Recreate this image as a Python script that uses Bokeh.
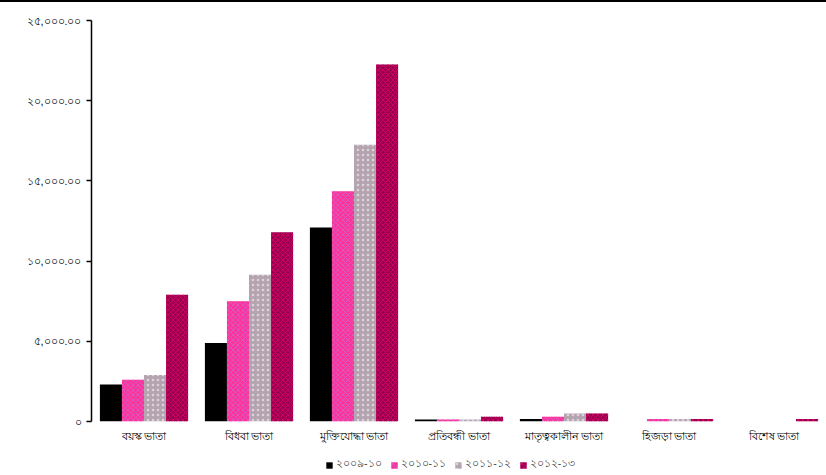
from bokeh.plotting import figure
from bokeh.models import ColumnDataSource, FactorRange, Legend, LegendItem, FixedTicker
from bokeh.layouts import column
from bokeh.transform import dodge
from bokeh.embed import file_html
from bokeh.resources import INLINE

categories = ["বয়স্ক ভাতা", "বিধবা ভাতা", "মুক্তিযোদ্ধা ভাতা", "প্রতিবন্ধী ভাতা",
              "মাতৃত্বকালীন ভাতা", "হিজড়া ভাতা", "বিশেষ ভাতা"]
years = ["২০০৯-১০", "২০১০-১১", "২০১১-১২", "২০১২-১৩"]
s1 = [2300, 4900, 12100, 120, 150, 0, 0]
s2 = [2600, 7500, 14350, 120, 300, 150, 0]
s3 = [2900, 9150, 17250, 120, 500, 150, 0]
s4 = [7900, 11800, 22250, 300, 500, 150, 150]
y_ticks = [0, 5000, 10000, 15000, 20000, 25000]
y_tick_labels = ["০", "৫,০০০.০০", "১০,০০০.০০", "১৫,০০০.০০", "২০,০০০.০০", "২৫,০০০.০০"]

source = ColumnDataSource(dict(cat=categories, s1=s1, s2=s2, s3=s3, s4=s4))

p = figure(x_range=FactorRange(factors=categories, range_padding=0), y_range=(0, 25000),
           width=826, height=452, output_backend="svg", toolbar_location=None,
           min_border_left=91, min_border_top=18, min_border_right=0, min_border_bottom=33)
p.outline_line_color = None
p.grid.grid_line_color = None
p.styles = {"border-top": "2px solid #000000"}

styles = [
    dict(fill_color="#000000", hatch_pattern=None, hatch_color=None),
    dict(fill_color="#FF3399", hatch_pattern="diagonal_cross", hatch_color="#D060C8"),
    dict(fill_color="#B4A4B0", hatch_pattern="dot", hatch_color="#E8E0E8"),
    dict(fill_color="#99004D", hatch_pattern="diagonal_cross", hatch_color="#E0006A"),
]
offsets = [-0.315, -0.105, 0.105, 0.315]
keys = ["s1", "s2", "s3", "s4"]


def bar_style(st):
    kw = dict(fill_color=st["fill_color"], line_color=None)
    if st["hatch_pattern"]:
        kw.update(hatch_pattern=st["hatch_pattern"], hatch_color=st["hatch_color"],
                  hatch_scale=5, hatch_weight=1, hatch_alpha=0.8)
    return kw


for k, off, st in zip(keys, offsets, styles):
    p.vbar(x=dodge("cat", off, range=p.x_range), top=k, width=0.21, source=source, **bar_style(st))

p.yaxis.ticker = FixedTicker(ticks=y_ticks)
p.yaxis.major_label_overrides = {t: l for t, l in zip(y_ticks, y_tick_labels)}
p.yaxis.minor_tick_line_color = None
p.yaxis.major_tick_in = 0
p.yaxis.major_tick_out = 5
p.yaxis.axis_line_color = "#000000"
p.yaxis.axis_line_width = 1.5
p.yaxis.major_tick_line_width = 1.5
p.yaxis.major_label_text_font_size = "8pt"
p.yaxis.major_label_text_color = "#000000"

p.xaxis.axis_line_color = None
p.xaxis.major_tick_line_color = None
p.xaxis.minor_tick_line_color = None
p.xaxis.major_tick_in = 0
p.xaxis.major_tick_out = 0
p.xaxis.minor_tick_in = 0
p.xaxis.minor_tick_out = 0
p.xaxis.major_label_text_font_size = "8pt"
p.xaxis.major_label_text_color = "#000000"
p.xaxis.major_label_standoff = 8

# legend strip below the chart (its renderers hold one off-range point so swatches draw)
lg = figure(width=826, height=22, output_backend="svg", toolbar_location=None,
            x_axis_type=None, y_axis_type=None, x_range=(0, 1), y_range=(0, 1),
            min_border=0, min_border_left=0, min_border_right=0,
            min_border_top=0, min_border_bottom=0)
lg.outline_line_color = None
lg.grid.grid_line_color = None
dummy = ColumnDataSource(dict(x=[-10], top=[-10]))
items = []
for st, yr in zip(styles, years):
    r = lg.vbar(x="x", top="top", width=0.1, source=dummy, **bar_style(st))
    items.append(LegendItem(label=yr, renderers=[r]))
legend = Legend(items=items, orientation="horizontal", location=(234, 0),
                label_text_font_size="8pt", glyph_width=8, glyph_height=8,
                label_standoff=3, spacing=8, padding=0, margin=0,
                label_height=16, border_line_color=None, background_fill_alpha=0)
lg.add_layout(legend)

open("out.html", "w").write(file_html(column(p, lg, spacing=0), INLINE))
